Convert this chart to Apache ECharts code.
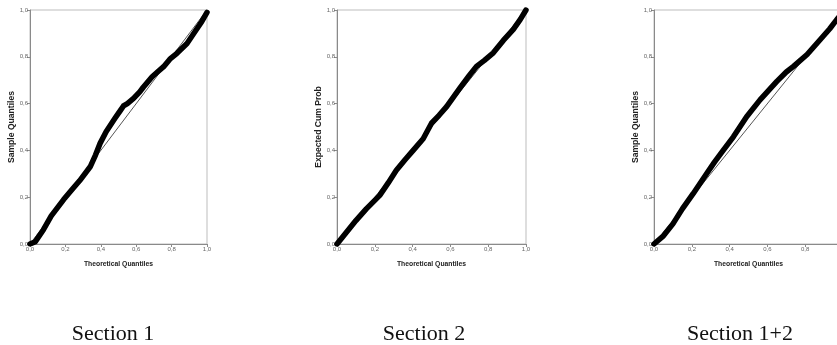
<!DOCTYPE html>
<html>
<head>
<meta charset="utf-8">
<script src="https://cdn.jsdelivr.net/npm/echarts@6/dist/echarts.min.js"></script>
<style>
html,body{margin:0;padding:0;background:#fff;}
#c{width:837px;height:345px;}
</style>
</head>
<body>
<div id="c"></div>
<script>
// Section 1
var x1 = [0, 0.03, 0.075, 0.12, 0.19, 0.24, 0.28, 0.34, 0.37, 0.396, 0.43, 0.48, 0.51, 0.528, 0.55, 0.585, 0.62, 0.64, 0.69, 0.72, 0.755, 0.79, 0.83, 0.887, 0.943, 0.97, 1.0];
var y1 = [0, 0.01, 0.06, 0.12, 0.19, 0.235, 0.27, 0.33, 0.38, 0.43, 0.48, 0.537, 0.57, 0.59, 0.6, 0.622, 0.65, 0.67, 0.715, 0.735, 0.758, 0.79, 0.815, 0.857, 0.92, 0.95, 0.99];
// Section 2
var x2 = [0, 0.05, 0.10, 0.155, 0.226, 0.27, 0.314, 0.36, 0.403, 0.456, 0.5, 0.54, 0.58, 0.65, 0.7, 0.738, 0.78, 0.827, 0.88, 0.933, 0.97, 1.0];
var y2 = [0, 0.05, 0.10, 0.15, 0.208, 0.26, 0.315, 0.36, 0.40, 0.45, 0.516, 0.55, 0.587, 0.666, 0.72, 0.759, 0.785, 0.817, 0.87, 0.917, 0.96, 1.0];
// Section 1+2
var x3 = [0, 0.05, 0.1, 0.15, 0.207, 0.278, 0.32, 0.366, 0.42, 0.49, 0.561, 0.65, 0.7, 0.738, 0.81, 0.88, 0.93, 0.968, 1.0];
var y3 = [0, 0.035, 0.086, 0.15, 0.215, 0.30, 0.35, 0.40, 0.458, 0.544, 0.616, 0.695, 0.735, 0.759, 0.81, 0.874, 0.92, 0.96, 0.99];
// reference diagonal
var refX = [0, 1];
var refY = [0, 1];

var captions = ['Section 1', 'Section 2', 'Section 1+2'];
var yNames = ['Sample Quantiles', 'Expected Cum Prob', 'Sample Quantiles'];
var xName = 'Theoretical Quantiles';

function pairs(xs, ys) { return xs.map(function (v, i) { return [v, ys[i]]; }); }

var FONT = "'Liberation Sans', Arial, sans-serif";
var grids = [
  {left: 30, top: 10, width: 177, height: 234},
  {left: 337, top: 10, width: 189, height: 234},
  {left: 654, top: 10, width: 189, height: 234}
];
var capX = [108, 419, 735];

function fmt(v) { return v.toFixed(1).replace('.', ','); }

function axisCommon(name, gap, rotate, nameSize) {
  return {
    type: 'value', min: 0, max: 1, interval: 0.2,
    name: name, nameLocation: 'middle', nameGap: gap, nameRotate: rotate,
    nameTextStyle: {fontFamily: FONT, fontSize: nameSize, fontWeight: 'bold', color: '#222'},
    axisLine: {show: true, lineStyle: {color: '#8a8a8a', width: 1}},
    axisTick: {show: true, inside: false, length: 3, lineStyle: {color: '#8a8a8a'}},
    axisLabel: {formatter: fmt, fontFamily: FONT, fontSize: 6, color: '#666', margin: 2},
    splitLine: {show: false}
  };
}

var xAxes = [], yAxes = [], series = [];
var data = [pairs(x1, y1), pairs(x2, y2), pairs(x3, y3)];
for (var i = 0; i < 3; i++) {
  var xa = axisCommon(xName, 17, 0, 6.8); xa.gridIndex = i;
  var ya = axisCommon(yNames[i], 14, 90, 8.6); ya.gridIndex = i;
  xAxes.push(xa); yAxes.push(ya);
  series.push({
    type: 'line', xAxisIndex: i, yAxisIndex: i, data: pairs(refX, refY),
    symbol: 'none', silent: true, animation: false,
    lineStyle: {color: '#555', width: 1}, z: 2
  });
  series.push({
    type: 'line', xAxisIndex: i, yAxisIndex: i, data: data[i],
    symbol: 'none', animation: false,
    lineStyle: {color: '#000', width: 5.5, cap: 'round', join: 'round'}, z: 3
  });
}

var grid = grids.map(function (g) {
  return Object.assign({show: true, borderColor: '#bdbdbd', borderWidth: 1, backgroundColor: '#fff',
    containLabel: false, outerBoundsMode: 'none'}, g);
});

var title = captions.map(function (t, i) {
  return {text: t, left: capX[i], top: 318, textAlign: 'center',
    textStyle: {fontFamily: "'Liberation Serif', 'Times New Roman', serif", fontSize: 22, fontWeight: 'normal', color: '#111'}};
});

var chart = echarts.init(document.getElementById('c'), null, {renderer: 'canvas'});
chart.setOption({
  animation: false,
  title: title,
  grid: grid,
  xAxis: xAxes,
  yAxis: yAxes,
  series: series
});
</script>
</body>
</html>
